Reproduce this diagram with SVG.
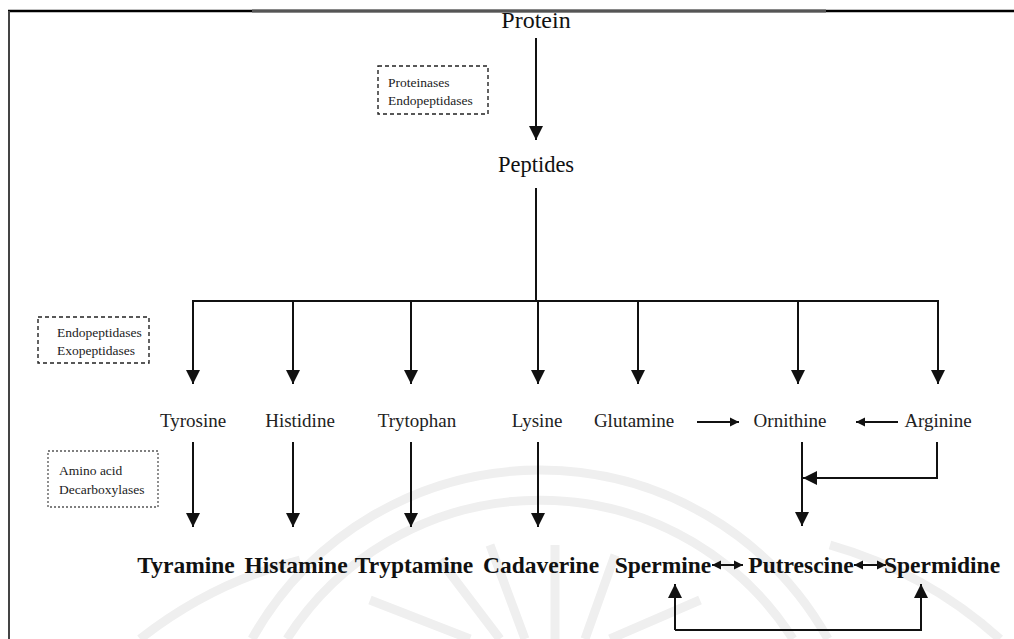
<svg xmlns="http://www.w3.org/2000/svg" width="1014" height="639" viewBox="0 0 1014 639">
<style>
.t{font-family:"Liberation Serif","Times New Roman",serif;fill:#111}
.big{font-size:22.5px}
.mid{font-size:19px;fill:#222}
.small{font-size:13.5px;fill:#222}
.bold{font-size:23.5px;font-weight:bold}
.ln{stroke:#111;stroke-width:2;fill:none}
.box{fill:none;stroke:#222;stroke-width:1.4;stroke-dasharray:4 3}
.dot{fill:none;stroke:#555;stroke-width:1.3;stroke-dasharray:2 2}
.wm{fill:none;stroke:#efefef;stroke-width:9}
</style>
<defs>
<marker id="ah" markerUnits="userSpaceOnUse" markerWidth="16" markerHeight="16" viewBox="0 0 16 16" refX="14" refY="8" orient="auto">
<path d="M0,1 L14,8 L0,15 Z" fill="#111"/>
</marker>
<marker id="sh" markerUnits="userSpaceOnUse" markerWidth="10" markerHeight="10" viewBox="0 0 10 10" refX="9" refY="5" orient="auto-start-reverse">
<path d="M0,0.5 L9,5 L0,9.5 Z" fill="#111"/>
</marker>
</defs>
<rect width="1014" height="639" fill="#fff"/>
<g id="watermark">
<path class="wm" d="M252,639 A330,330 0 0 1 828,639"/>
<path class="wm" d="M287,639 A300,300 0 0 1 793,639"/>
<path class="wm" d="M140,639 A430,430 0 0 1 300,560"/>
<path class="wm" d="M830,545 A430,430 0 0 1 1000,639"/>
<path class="wm" d="M440,560 L500,639 M490,545 L525,639 M555,545 L555,639 M615,555 L585,639 M370,600 L470,639 M700,600 L610,639" stroke-width="5"/>
</g>
<g id="frame">
<line x1="8" y1="11" x2="1014" y2="11" stroke="#000" stroke-width="2.5"/>
<line x1="252" y1="11" x2="826" y2="11" stroke="#555" stroke-width="3"/>
<line x1="9" y1="11" x2="9" y2="639" stroke="#444" stroke-width="2"/>
</g>
<g id="n-protein"><text class="t" style="font-size:24px" x="536" y="28" text-anchor="middle">Protein</text></g>
<g id="n-box1"><rect class="box" x="378" y="66" width="110" height="48"/><text class="t small" x="388" y="87">Proteinases</text><text class="t small" x="388" y="105">Endopeptidases</text></g>
<g id="n-peptides"><text class="t big" x="536" y="172" text-anchor="middle">Peptides</text></g>
<g id="n-box2"><rect class="box" x="38" y="317" width="111" height="46"/><text class="t small" x="57" y="337">Endopeptidases</text><text class="t small" x="57" y="355">Exopeptidases</text></g>
<g id="n-box3"><rect class="dot" x="48" y="451" width="110" height="56"/><text class="t small" x="59" y="475">Amino acid</text><text class="t small" x="59" y="494">Decarboxylases</text></g>
<g id="n-tyrosine"><text class="t mid" x="193" y="427" text-anchor="middle">Tyrosine</text></g>
<g id="n-histidine"><text class="t mid" x="300" y="427" text-anchor="middle">Histidine</text></g>
<g id="n-trytophan"><text class="t mid" x="417" y="427" text-anchor="middle">Trytophan</text></g>
<g id="n-lysine"><text class="t mid" x="537" y="427" text-anchor="middle">Lysine</text></g>
<g id="n-glutamine"><text class="t mid" x="634" y="427" text-anchor="middle">Glutamine</text></g>
<g id="n-ornithine"><text class="t mid" x="790" y="427" text-anchor="middle">Ornithine</text></g>
<g id="n-arginine"><text class="t mid" x="938" y="427" text-anchor="middle">Arginine</text></g>
<g id="n-tyramine"><text class="t bold" x="186" y="573" text-anchor="middle">Tyramine</text></g>
<g id="n-histamine"><text class="t bold" x="296" y="573" text-anchor="middle">Histamine</text></g>
<g id="n-tryptamine"><text class="t bold" x="414" y="573" text-anchor="middle">Tryptamine</text></g>
<g id="n-cadaverine"><text class="t bold" x="541" y="573" text-anchor="middle">Cadaverine</text></g>
<g id="n-spermine"><text class="t bold" x="663" y="573" text-anchor="middle">Spermine</text></g>
<g id="n-putrescine"><text class="t bold" x="801" y="573" text-anchor="middle">Putrescine</text></g>
<g id="n-spermidine"><text class="t bold" x="942" y="573" text-anchor="middle">Spermidine</text></g>
<g id="connectors">
<line class="ln" x1="536" y1="38" x2="536" y2="140" marker-end="url(#ah)"/>
<line class="ln" x1="536" y1="188" x2="536" y2="301"/>
<line class="ln" x1="192" y1="301" x2="939" y2="301"/>
<line class="ln" x1="193" y1="301" x2="193" y2="384" marker-end="url(#ah)"/>
<line class="ln" x1="293" y1="301" x2="293" y2="384" marker-end="url(#ah)"/>
<line class="ln" x1="411" y1="301" x2="411" y2="384" marker-end="url(#ah)"/>
<line class="ln" x1="538" y1="301" x2="538" y2="384" marker-end="url(#ah)"/>
<line class="ln" x1="638" y1="301" x2="638" y2="384" marker-end="url(#ah)"/>
<line class="ln" x1="798" y1="301" x2="798" y2="384" marker-end="url(#ah)"/>
<line class="ln" x1="938" y1="301" x2="938" y2="384" marker-end="url(#ah)"/>
<line class="ln" x1="697" y1="422" x2="739" y2="422" marker-end="url(#sh)" stroke-width="1.5"/>
<line class="ln" x1="898" y1="422" x2="856" y2="422" marker-end="url(#sh)" stroke-width="1.5"/>
<line class="ln" x1="193" y1="442" x2="193" y2="527" marker-end="url(#ah)"/>
<line class="ln" x1="293" y1="442" x2="293" y2="527" marker-end="url(#ah)"/>
<line class="ln" x1="411" y1="442" x2="411" y2="527" marker-end="url(#ah)"/>
<line class="ln" x1="538" y1="442" x2="538" y2="527" marker-end="url(#ah)"/>
<line class="ln" x1="802" y1="442" x2="802" y2="526" marker-end="url(#ah)"/>
<polyline class="ln" points="937,442 937,478 803,478" marker-end="url(#ah)"/>
<line class="ln" x1="712" y1="565" x2="743" y2="565" marker-start="url(#sh)" marker-end="url(#sh)" stroke-width="2"/>
<line class="ln" x1="854" y1="565" x2="886" y2="565" marker-start="url(#sh)" marker-end="url(#sh)" stroke-width="2"/>
<line class="ln" x1="675" y1="630" x2="675" y2="584" marker-end="url(#ah)" stroke-width="1.6"/>
<polyline class="ln" points="675,630 921,630 921,584" marker-end="url(#ah)" stroke-width="1.6"/>
</g>
</svg>
